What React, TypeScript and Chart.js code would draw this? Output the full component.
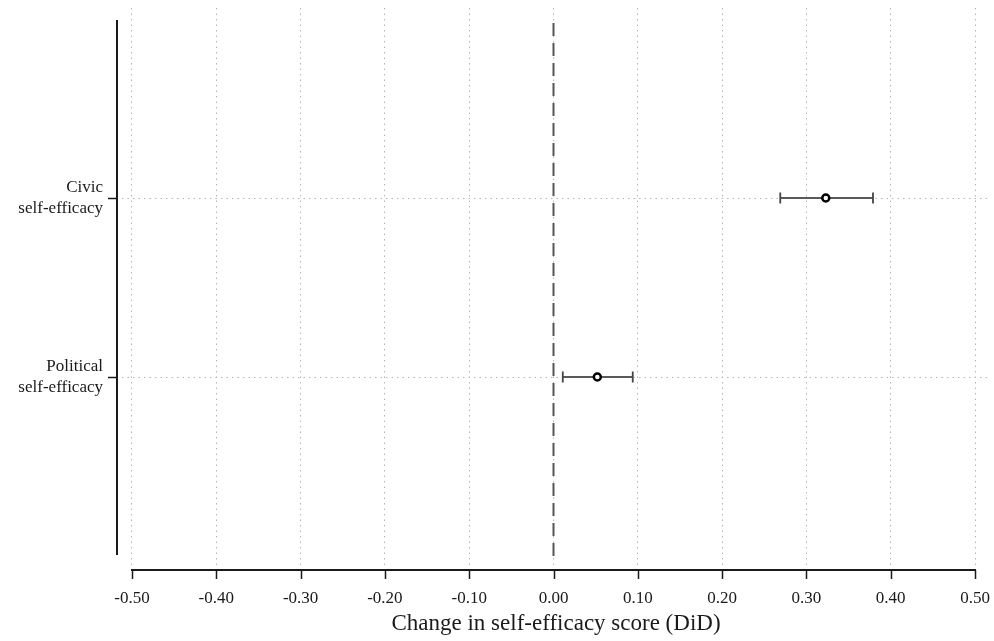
import React, { useEffect, useRef } from "react";
import { Chart, registerables } from "chart.js";

Chart.register(...registerables);

const categories = ["Political\nself-efficacy", "Civic\nself-efficacy"];
const categoryPositions = [1, 2];
const estimates = [0.052, 0.323];
const lowerCI = [0.011, 0.269];
const upperCI = [0.094, 0.379];
const xTickValues = [-0.5, -0.4, -0.3, -0.2, -0.1, 0, 0.1, 0.2, 0.3, 0.4, 0.5];
const xTitle = "Change in self-efficacy score (DiD)";

const FONT = "'Liberation Serif', 'Times New Roman', serif";

const axesPlugin = {
  id: "stataAxes",
  afterDraw(chart: any) {
    const { ctx, chartArea, scales } = chart;
    const xs = scales.x;
    const ys = scales.y;
    ctx.save();
    ctx.strokeStyle = "#1a1a1a";
    ctx.lineWidth = 2;
    // y axis
    const ax = chartArea.left - 5;
    ctx.beginPath();
    ctx.moveTo(ax, ys.getPixelForValue(3) + 1);
    ctx.lineTo(ax, ys.getPixelForValue(0) - 1);
    ctx.stroke();
    ctx.lineWidth = 1.5;
    categoryPositions.forEach((v) => {
      const py = Math.round(ys.getPixelForValue(v)) + 0.5;
      ctx.beginPath();
      ctx.moveTo(ax - 9, py);
      ctx.lineTo(ax, py);
      ctx.stroke();
    });
    // x axis
    const ay = chartArea.bottom + 5;
    ctx.lineWidth = 2;
    ctx.beginPath();
    ctx.moveTo(xs.getPixelForValue(-0.5) - 1, ay);
    ctx.lineTo(xs.getPixelForValue(0.5) + 1, ay);
    ctx.stroke();
    ctx.lineWidth = 1.5;
    xTickValues.forEach((v) => {
      const px = Math.round(xs.getPixelForValue(v)) + 0.5;
      ctx.beginPath();
      ctx.moveTo(px, ay);
      ctx.lineTo(px, ay + 9);
      ctx.stroke();
    });
    ctx.restore();
  },
};

export default function App() {
  const ref = useRef<HTMLCanvasElement>(null);
  useEffect(() => {
    if (!ref.current) return;
    const errorSets = categoryPositions.map((y, i) => ({
      type: "line" as const,
      data: [
        { x: lowerCI[i], y },
        { x: upperCI[i], y },
      ],
      borderColor: "#5a5a5a",
      borderWidth: 2,
      pointStyle: "line" as const,
      rotation: 90,
      pointRadius: 5.5,
      pointBorderWidth: 1.8,
      pointBorderColor: "#444",
      pointHoverRadius: 5.5,
      showLine: true,
    }));
    const chart = new Chart(ref.current, {
      type: "scatter",
      data: {
        datasets: [
          {
            type: "scatter",
            data: categoryPositions.map((y, i) => ({ x: estimates[i], y })),
            pointRadius: 3.5,
            pointBorderWidth: 2.5,
            borderColor: "#000",
            backgroundColor: "#fff",
            pointBackgroundColor: "#fff",
            pointBorderColor: "#000",
          },
          ...errorSets,
          {
            type: "line",
            data: [
              { x: 0, y: 0 },
              { x: 0, y: 3 },
            ],
            borderColor: "#555",
            borderWidth: 2,
            borderDash: [13, 7],
            pointRadius: 0,
            showLine: true,
          },
        ] as any,
      },
      options: {
        responsive: false,
        animation: false,
        events: [],
        layout: { autoPadding: false, padding: { top: 8, right: 4, left: 0, bottom: 0 } },
        plugins: {
          legend: { display: false },
          tooltip: { enabled: false },
        },
        scales: {
          x: {
            type: "linear",
            min: -0.5 - 10 / 843,
            max: 0.5 + 15 / 843,
            afterBuildTicks: (scale: any) => {
              scale.ticks = xTickValues.map((v) => ({ value: v }));
            },
            afterFit: (scale: any) => {
              scale.height = 76;
              scale.paddingLeft = 0;
              scale.paddingRight = 0;
            },
            border: { display: false, dash: [1.5, 4] },
            grid: {
              color: "#b5b5b5",
              lineWidth: 1,
              drawTicks: false,
            },
            ticks: {
              padding: 23,
              color: "#1a1a1a",
              font: { family: FONT, size: 17 },
              maxRotation: 0,
              autoSkip: false,
              callback: (v: any) => Number(v).toFixed(2),
            },
            title: {
              display: true,
              text: xTitle,
              color: "#1a1a1a",
              font: { family: FONT, size: 23 },
              padding: { top: 0, bottom: 3 },
            },
          },
          y: {
            type: "linear",
            min: -9 / 179,
            max: 3 + 11 / 179,
            afterBuildTicks: (scale: any) => {
              scale.ticks = categoryPositions.map((v) => ({ value: v }));
            },
            afterFit: (scale: any) => {
              scale.width = 122;
              scale.paddingTop = 0;
              scale.paddingBottom = 0;
            },
            border: { display: false, dash: [1.5, 4] },
            grid: {
              color: "#b5b5b5",
              lineWidth: 1,
              drawTicks: false,
            },
            ticks: {
              padding: 19,
              color: "#1a1a1a",
              font: { family: FONT, size: 17, lineHeight: 1.25 },
              autoSkip: false,
              callback: (v: any) => {
                const idx = categoryPositions.indexOf(Number(v));
                return idx >= 0 ? categories[idx].split("\n") : "";
              },
            },
          },
        },
      } as any,
      plugins: [axesPlugin],
    });
    return () => chart.destroy();
  }, []);
  return (
    <div style={{ position: "absolute", left: 0, top: 0, width: 994, height: 641, background: "#fff" }}>
      <canvas ref={ref} width={994} height={641} style={{ width: 994, height: 641 }} />
    </div>
  );
}
